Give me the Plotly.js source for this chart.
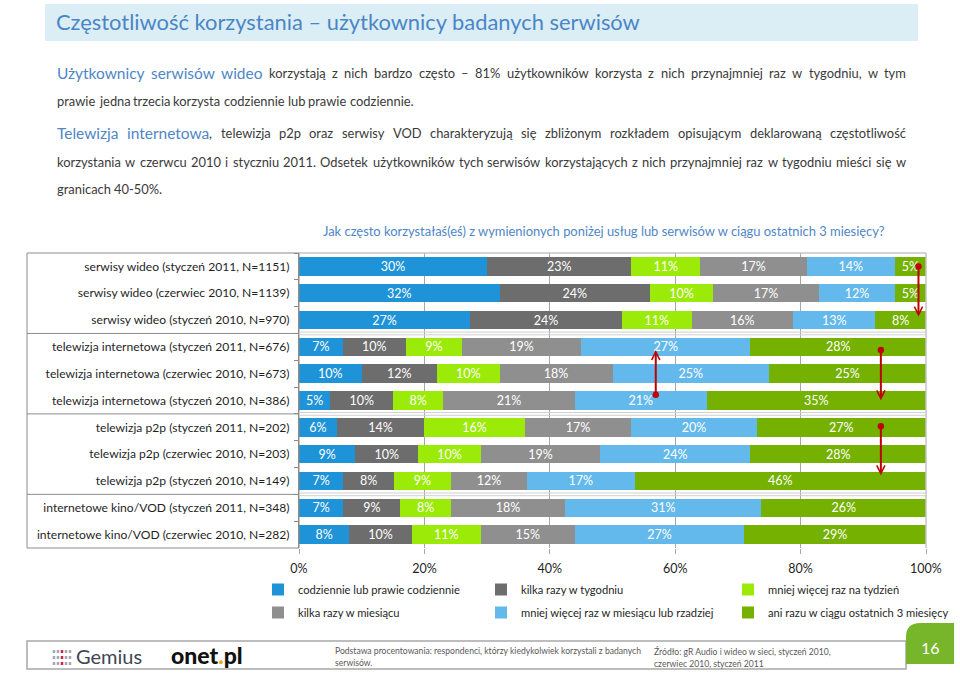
<!DOCTYPE html>
<html>
<head>
<meta charset="utf-8">
<script src="https://cdn.plot.ly/plotly-3.0.1.min.js"></script>
<style>html,body{margin:0;padding:0;background:#fff;}#chart{width:960px;height:673px;}</style>
</head>
<body>
<div id="chart"></div>
<script>
// ---------------- DATA ----------------
const categories = [
  'serwisy wideo (styczeń 2011, N=1151)',
  'serwisy wideo (czerwiec 2010, N=1139)',
  'serwisy wideo (styczeń 2010, N=970)',
  'telewizja internetowa (styczeń 2011, N=676)',
  'telewizja internetowa (czerwiec 2010, N=673)',
  'telewizja internetowa (styczeń 2010, N=386)',
  'telewizja p2p (styczeń 2011, N=202)',
  'telewizja p2p (czerwiec 2010, N=203)',
  'telewizja p2p (styczeń 2010, N=149)',
  'internetowe kino/VOD (styczeń 2011, N=348)',
  'internetowe kino/VOD (czerwiec 2010, N=282)'
];
const seriesNames = [
  'codziennie lub prawie codziennie',
  'kilka razy w tygodniu',
  'mniej więcej raz na tydzień',
  'kilka razy w miesiącu',
  'mniej więcej raz w miesiącu lub rzadziej',
  'ani razu w ciągu ostatnich 3 miesięcy'
];
const daily       = [30, 32, 27,  7, 10,  5,  6,  9,  7,  7,  8];
const fewPerWeek  = [23, 24, 24, 10, 12, 10, 14, 10,  8,  9, 10];
const oncePerWeek = [11, 10, 11,  9, 10,  8, 16, 10,  9,  8, 11];
const fewPerMonth = [17, 17, 16, 19, 18, 21, 17, 19, 12, 18, 15];
const monthlyLess = [14, 12, 13, 27, 25, 21, 20, 24, 17, 31, 27];
const never       = [ 5,  5,  8, 28, 25, 35, 27, 28, 46, 26, 29];
const xTickVals = [0, 20, 40, 60, 80, 100];
const xTickText = ['0%', '20%', '40%', '60%', '80%', '100%'];
// arrows: x value (%), tail row position, head row position
const arrowX    = [98.8, 56.9, 92.8, 92.8];
const arrowTail = [-0.05, 4.84, 3.06, 5.9];
const arrowHead = [1.87, 3.12, 4.99, 7.79];
const groupBreaks = [2.5, 5.5, 8.5];

// ---------------- STYLE ----------------
const colors = ['#1E93D8', '#6D6D6D', '#9BEA08', '#8F8F8F', '#63B9EC', '#74B100'];
const FONT = 'Lato, "Open Sans", "Liberation Sans", sans-serif';
const L = 299, R = 926, T = 253, B = 548, W = R - L, H = B - T;
const px = x => (x - L) / W;
const py = y => (B - y) / H;

const ctx = document.createElement('canvas').getContext('2d');
function tw(t, s, w) { ctx.font = (w || 'normal') + ' ' + s + 'px Lato'; return ctx.measureText(t).width; }
function fit(t, target, w) { return 20 * target / tw(t, 20, w); }

const allSeries = [daily, fewPerWeek, oncePerWeek, fewPerMonth, monthlyLess, never];
const legendOf = ['legend', 'legend2', 'legend3', 'legend', 'legend2', 'legend3'];

const tickSize = fit(categories[0], 206);
const legendSize = fit(seriesNames[0], 162);

const traces = allSeries.map((vals, i) => ({
  type: 'bar',
  orientation: 'h',
  name: seriesNames[i],
  y: categories,
  x: vals,
  text: vals.map(v => v + '%'),
  textposition: 'inside',
  insidetextanchor: 'middle',
  textangle: 0,
  constraintext: 'none',
  textfont: {color: '#ffffff', size: 12.5, family: FONT},
  marker: {color: colors[i], line: {width: 0}},
  legend: legendOf[i],
  legendgroup: 'g' + i,
  hoverinfo: 'name+text'
}));

// ---------------- TEXT (annotations) ----------------
const annotations = [];
const BLUE = '#4F86C6', DARK = '#3A3A3A';
const L4text = 'korzystania w czerwcu 2010 i styczniu 2011. Odsetek użytkowników tych serwisów korzystających z nich przynajmniej raz w tygodniu mieści się w';
const bodySize = Math.min(fit('prawie jedna trzecia korzysta codziennie lub prawie codziennie.', 381), fit(L4text, 828));
const blueSize = Math.min(fit('Użytkownicy serwisów wideo', 220), bodySize * 1.2);

function addText(t, x, y, size, color, anchor, extra) {
  annotations.push(Object.assign({
    text: t, xref: 'paper', yref: 'paper', x: px(x), y: py(y),
    xanchor: anchor || 'left', yanchor: 'middle', showarrow: false,
    borderpad: 0, borderwidth: 0,
    font: {family: FONT, size: size, color: color}
  }, extra || {}));
}

function addLine(pieces, y, justify, left, right) {
  const words = [];
  let cur = null;
  pieces.forEach(p => {
    const frags = p.t.split(' ');
    frags.forEach((f, k) => {
      if (k > 0 || !cur) { cur = []; words.push(cur); }
      if (f.length) cur.push({t: f, c: p.c, s: p.s});
    });
  });
  const ws = words.filter(w => w.length);
  const widths = ws.map(w => w.reduce((a, r) => a + tw(r.t, r.s), 0));
  const total = widths.reduce((a, b) => a + b, 0);
  const sp = tw(' ', bodySize);
  const gap = justify ? Math.max(sp * 0.9, (right - left - total) / (ws.length - 1)) : sp;
  let x = left;
  ws.forEach((w, i) => {
    let xx = x;
    w.forEach(r => { addText(r.t, xx, y, r.s, r.c); xx += tw(r.t, r.s); });
    x += widths[i] + gap;
  });
}

// title bar text
const titleText = 'Częstotliwość korzystania – użytkownicy badanych serwisów';
addText(titleText, 56, 21, fit(titleText, 585), '#4A86C6');

const PL = 57, PR = 906;
addLine([{t: 'Użytkownicy serwisów wideo', c: BLUE, s: blueSize},
         {t: ' korzystają z nich bardzo często – 81% użytkowników korzysta z nich przynajmniej raz w tygodniu, w tym', c: DARK, s: bodySize}], 73, true, PL, PR);
addLine([{t: 'prawie jedna trzecia korzysta codziennie lub prawie codziennie.', c: DARK, s: bodySize}], 101, false, PL, PR);
addLine([{t: 'Telewizja internetowa', c: BLUE, s: blueSize},
         {t: ', telewizja p2p oraz serwisy VOD charakteryzują się zbliżonym rozkładem opisującym deklarowaną częstotliwość', c: DARK, s: bodySize}], 133, true, PL, PR);
addLine([{t: L4text, c: DARK, s: bodySize}], 162, true, PL, PR);
addLine([{t: 'granicach 40-50%.', c: DARK, s: bodySize}], 189, false, PL, PR);

const question = 'Jak często korzystałaś(eś) z wymienionych poniżej usług lub serwisów w ciągu ostatnich 3 miesięcy?';
addText(question, 323, 231, fit(question, 563), '#4F86C6');

// footer texts
const fsz = 8.6;
addText('Podstawa procentowania: respondenci, którzy kiedykolwiek korzystali z badanych', 335, 651, fsz, '#595959');
addText('serwisów.', 335, 663, fsz, '#595959');
addText('Źródło: gR Audio i wideo w sieci, styczeń 2010,', 654, 651, fsz, '#595959');
addText('czerwiec 2010, styczeń 2011', 654, 664, fsz, '#595959');
addText('Gemius', 76, 656, 20, '#3E4654');
addText('onet<span style="color:#F2A900">.</span>pl', 171, 655, 23, '#111111', 'left', {font: {family: FONT, size: 23, color: '#111111', weight: 900}});
addText('16', 930, 647, 16, '#ffffff', 'center');

// arrows
arrowX.forEach((xv, i) => {
  annotations.push({
    text: '', xref: 'x', yref: 'y', axref: 'x', ayref: 'y',
    x: xv, y: arrowHead[i], ax: xv, ay: arrowTail[i],
    showarrow: true, arrowside: 'end+start', arrowhead: 5, startarrowhead: 6,
    arrowsize: 0.8, startarrowsize: 0.8, arrowwidth: 2, arrowcolor: '#C00000',
    standoff: 0, startstandoff: 0
  });
});

// ---------------- SHAPES ----------------
const shapes = [];
// title bar
shapes.push({type: 'rect', xref: 'paper', yref: 'paper', x0: px(45), x1: px(918), y0: py(41), y1: py(4),
  fillcolor: '#DCEEF5', line: {width: 0}, layer: 'below'});
// label box
shapes.push({type: 'rect', xref: 'paper', yref: 'paper', x0: px(27), x1: 0, y0: 0, y1: 1,
  line: {color: '#8C8C8C', width: 1}, fillcolor: 'rgba(0,0,0,0)'});
// plot frame top & right
shapes.push({type: 'line', xref: 'paper', yref: 'paper', x0: 0, x1: 1, y0: 1, y1: 1, line: {color: '#C4C4C4', width: 1.5}});
shapes.push({type: 'line', xref: 'paper', yref: 'paper', x0: 1, x1: 1, y0: 0, y1: 1, line: {color: '#C4C4C4', width: 1.5}});
groupBreaks.forEach(g => {
  shapes.push({type: 'line', xref: 'paper', yref: 'y', x0: px(27), x1: 0, y0: g, y1: g, line: {color: '#8C8C8C', width: 1}});
  shapes.push({type: 'line', xref: 'paper', yref: 'y', x0: 0, x1: 1, y0: g - 0.05, y1: g - 0.05, line: {color: '#CFCFCF', width: 1}});
  shapes.push({type: 'line', xref: 'paper', yref: 'y', x0: 0, x1: 1, y0: g + 0.05, y1: g + 0.05, line: {color: '#CFCFCF', width: 1}});
});
// footer box
shapes.push({type: 'rect', xref: 'paper', yref: 'paper', x0: px(27), x1: px(906), y0: py(669), y1: py(641),
  line: {color: '#A8A8A8', width: 1.5}, fillcolor: 'rgba(0,0,0,0)'});
// green tab with rounded top-left corner
(function () {
  const x0 = px(906), x1 = px(954), yb = py(664), yt = py(623), rx = px(920) - px(906), ry = py(623) - py(637);
  shapes.push({type: 'path', xref: 'paper', yref: 'paper',
    path: `M${x0},${yb} L${x0},${yt - ry} Q${x0},${yt} ${x0 + rx},${yt} L${x1},${yt} L${x1},${yb} Z`,
    fillcolor: '#77B52A', line: {width: 0}});
})();
// Gemius icon (dotted columns)
[54, 58, 62, 66, 70].forEach((cx, i) => {
  shapes.push({type: 'line', xref: 'paper', yref: 'paper', x0: px(cx), x1: px(cx), y0: py(665), y1: py(648),
    line: {color: i === 2 ? '#D0243C' : '#A3A8B2', width: 2.5, dash: 'dot'}});
});

// ---------------- LAYOUT ----------------
const legendBase = {
  orientation: 'v', xanchor: 'left', yanchor: 'top', y: py(575),
  font: {family: FONT, size: legendSize, color: '#262626'},
  bgcolor: 'rgba(0,0,0,0)', borderwidth: 0, tracegroupgap: 4, itemwidth: 30, itemclick: false
};

const layout = {
  width: 960, height: 673, autosize: false,
  margin: {l: L, r: 960 - R, t: T, b: 673 - B, pad: 0, autoexpand: false},
  paper_bgcolor: '#ffffff', plot_bgcolor: '#ffffff',
  barmode: 'stack', barnorm: 'percent', bargap: 0.31,
  font: {family: FONT, color: '#262626'},
  xaxis: {
    range: [0, 100], tickvals: xTickVals, ticktext: xTickText,
    showgrid: true, gridcolor: '#A6A6A6', gridwidth: 1, zeroline: false, showline: false,
    ticks: 'outside', ticklen: 5, tickcolor: '#A6A6A6', ticklabelstandoff: 4,
    tickfont: {family: FONT, size: 12.5, color: '#1F1F1F'}, fixedrange: true
  },
  yaxis: {
    type: 'category', autorange: 'reversed', showgrid: false, zeroline: false,
    showline: true, linecolor: '#8C8C8C', linewidth: 1,
    ticks: 'outside', tickson: 'boundaries', ticklen: 4, tickcolor: '#8C8C8C',
    ticklabelstandoff: 6,
    tickfont: {family: FONT, size: tickSize, color: '#1F1F1F'}, fixedrange: true
  },
  showlegend: true,
  legend: Object.assign({}, legendBase, {x: px(258)}),
  legend2: Object.assign({}, legendBase, {x: px(481)}),
  legend3: Object.assign({}, legendBase, {x: px(728)}),
  annotations: annotations,
  shapes: shapes
};

Plotly.newPlot('chart', traces, layout, {displayModeBar: false, staticPlot: false});
</script>
</body>
</html>
